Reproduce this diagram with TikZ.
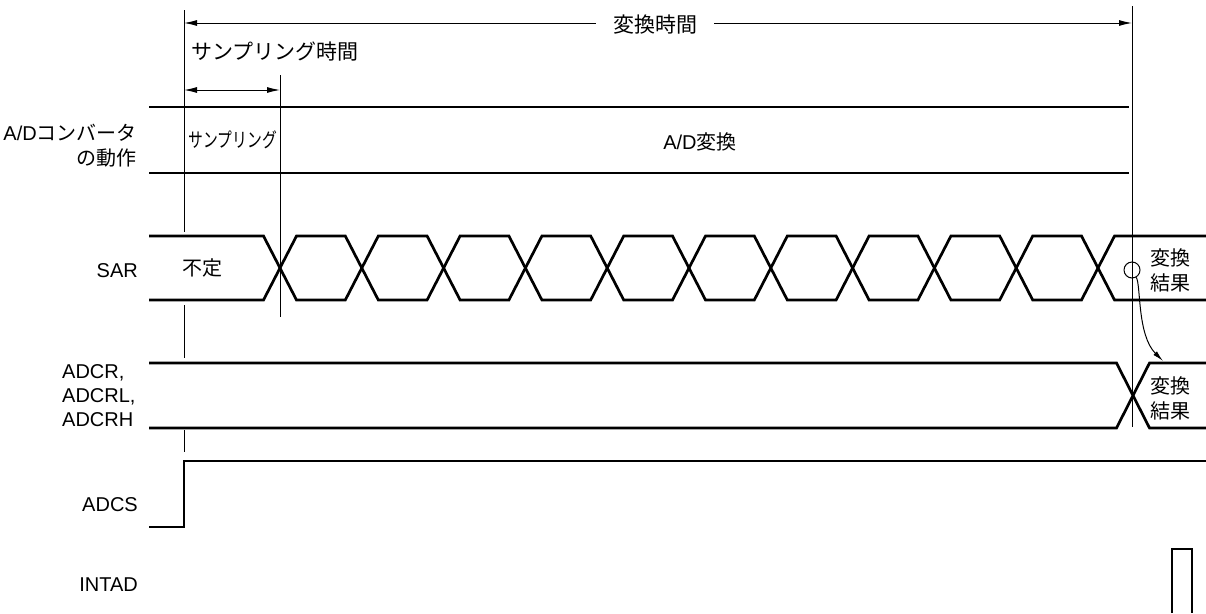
\documentclass[tikz,border=0pt]{standalone}
\usepackage{fontspec}
\setmainfont{Liberation Sans}
\newfontfamily\jp{Noto Sans CJK JP}
\usetikzlibrary{arrows.meta}
\tikzset{
  sig/.style={line width=2.7pt, line join=miter},
  thinl/.style={line width=1pt},
  dim/.style={line width=1pt, {Latex[length=13pt,width=6pt]}-{Latex[length=13pt,width=6pt]}},
  lbl/.style={font=\fontsize{20}{24}\selectfont, inner sep=0pt},
  jtxt/.style={font=\fontsize{21}{25}\selectfont\jp, inner sep=0pt},
}
\begin{document}
\begin{tikzpicture}[x=1pt,y=-1pt]
\useasboundingbox (0,0) rectangle (1206,613);
% coordinates
\coordinate (vL1) at (184,10);  \coordinate (vL2) at (184,232);
\coordinate (vL3) at (184,305); \coordinate (vL4) at (184,358);
\coordinate (vL5) at (184,430); \coordinate (vL6) at (184,452);
\coordinate (vS1) at (280,75);  \coordinate (vS2) at (280,317);
\coordinate (vR1) at (1132,6);  \coordinate (vR2) at (1132,427);
\coordinate (aL) at (184,23); \coordinate (aR) at (1132,23);
\coordinate (sL) at (184,90); \coordinate (sR) at (280,90);
% vertical reference lines
\draw[thinl] (vL1) -- (vL2);
\draw[thinl] (vL3) -- (vL4);
\draw[thinl] (vL5) -- (vL6);
\draw[thinl] (vS1) -- (vS2);
\draw[thinl] (vR1) -- (vR2);
% conversion time arrow
\draw[dim] (aL) -- (aR);
\node[jtxt, fill=white, inner xsep=17pt, inner ysep=2pt] (conv) at (655,25) {変換時間};
% sampling time
\node[jtxt, anchor=west] (stime) at (191,52) {サンプリング時間};
\draw[dim] (sL) -- (sR);
% A/D converter row
\draw[sig] (149,107) -- (1129,107);
\draw[sig] (149,173) -- (1129,173);
\node[lbl, anchor=east] (l1) at (137,133) {A/D{\jp コンバータ}};
\node[lbl, anchor=east] (l2) at (137,158) {\jp の動作};
\node[inner sep=0pt] (samp) at (233,140) {\scalebox{0.74}[1]{\fontsize{20}{24}\selectfont\jp サンプリング}};
\node[lbl] (adc) at (700,142) {A/D{\jp 変換}};
% SAR
\draw[sig] (149,236) -- (263.5,236)
  foreach \k in {0,2,4,6,8} {
    -- ({280+81.8*\k-16.5},236) -- ({280+81.8*\k+16.5},300)
    -- ({280+81.8*(\k+1)-16.5},300) -- ({280+81.8*(\k+1)+16.5},236)
  } -- (1081.5,236) -- (1114.5,300) -- (1206,300);
\draw[sig] (149,300) -- (263.5,300)
  foreach \k in {0,2,4,6,8} {
    -- ({280+81.8*\k-16.5},300) -- ({280+81.8*\k+16.5},236)
    -- ({280+81.8*(\k+1)-16.5},236) -- ({280+81.8*(\k+1)+16.5},300)
  } -- (1081.5,300) -- (1114.5,236) -- (1206,236);
\node[lbl, anchor=east] (sar) at (138,271) {SAR};
\node[jtxt, font=\fontsize{20}{24}\selectfont\jp] (undef) at (202,268) {不定};
\node[jtxt, font=\fontsize{20}{25}\selectfont\jp, align=center] (res1) at (1170,270) {変換\\結果};
% circle and curved arrow
\node[draw, circle, thinl, minimum size=16pt, inner sep=0pt] (circ) at (1132,270) {};
\coordinate (arrEnd) at (1163,361);
\draw[thinl, -{Latex[length=11pt,width=5pt]}] (circ.-60) .. controls (1141,285) and (1137,335) .. (arrEnd);
% ADCR
\draw[sig] (149,363) -- (1116.5,363) -- (1149.5,428) -- (1206,428);
\draw[sig] (149,428) -- (1116.5,428) -- (1149.5,363) -- (1206,363);
\node[lbl, anchor=west, align=left] (adcr) at (62,396) {ADCR,\\ADCRL,\\ADCRH};
\node[jtxt, font=\fontsize{20}{25}\selectfont\jp, align=center] (res2) at (1170,398) {変換\\結果};
% ADCS
\draw[sig] (149,527) -- (184,527) -- (184,461) -- (1206,461);
\node[lbl, anchor=east] (adcs) at (138,505) {ADCS};
% INTAD
\draw[sig] (1172,613) -- (1172,549) -- (1192,549) -- (1192,613);
\node[lbl, anchor=east] (intad) at (138,585) {INTAD};
\end{tikzpicture}
\end{document}
